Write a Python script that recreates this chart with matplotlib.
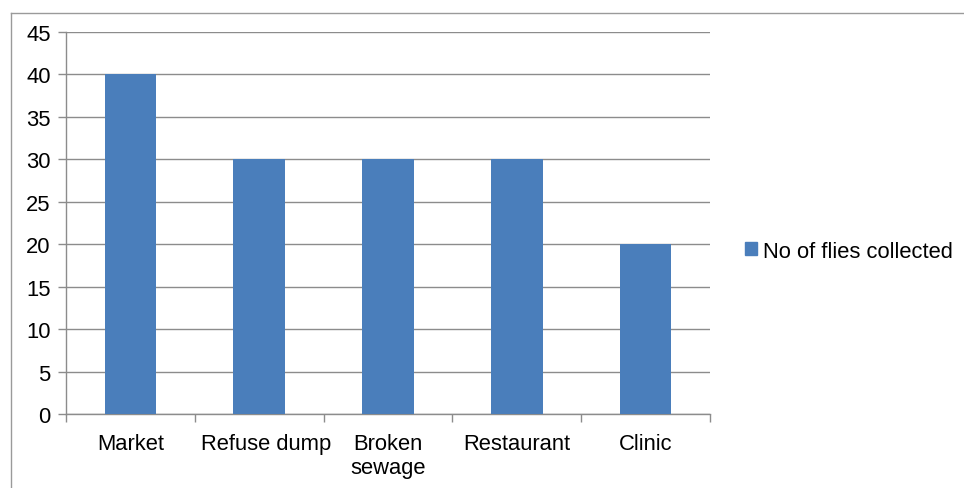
import matplotlib
matplotlib.use("Agg")
import matplotlib.pyplot as plt
import matplotlib.transforms as mtransforms
from matplotlib.patches import Rectangle
from matplotlib.lines import Line2D
import numpy as np

categories = ["Market", "Refuse dump", "Broken\nsewage", "Restaurant", "Clinic"]
values = [40, 30, 30, 30, 20]
series_name = "No of flies collected"
yticks = [0, 5, 10, 15, 20, 25, 30, 35, 40, 45]

plt.rcParams['font.family'] = ['Liberation Sans', 'DejaVu Sans']
W, H = 964, 489
fig = plt.figure(figsize=(W/100, H/100), dpi=100)
ax = fig.add_axes([66/W, 1-415/H, (710-66)/W, (415-33)/H])

FS = 15.8
bar_color = "#4a7ebb"
grid_color = "#8c8c8c"
x = np.arange(len(categories))
ax.bar(x, values, width=0.4, color=bar_color, zorder=3)

ax.set_xlim(-0.5, len(categories)-0.5)
ax.set_ylim(0, 45)
ax.set_yticks(yticks)
ax.set_yticklabels([str(v) for v in yticks], fontsize=FS)
ax.yaxis.grid(True, color=grid_color, linewidth=1.0, zorder=0)
ax.set_axisbelow(True)

ax.set_xticks(x)
ax.set_xticklabels(categories, fontsize=FS, linespacing=1.15, va='top')
ax.set_xticks(np.arange(len(categories)+1)-0.5, minor=True)
ax.tick_params(axis='x', which='major', length=0, pad=14)
ax.tick_params(axis='x', which='minor', length=6, color=grid_color, width=1.0, direction='out')
ax.tick_params(axis='y', length=6, color=grid_color, width=1.0, pad=5)

# the single-line "Refuse dump" label sits slightly right of its bar in the original
lbl = ax.get_xticklabels()[1]
lbl.set_transform(lbl.get_transform() + mtransforms.ScaledTranslation(7/100, 0, fig.dpi_scale_trans))

for s in ['top', 'right']:
    ax.spines[s].set_visible(False)
for s in ['left', 'bottom']:
    ax.spines[s].set_color(grid_color)
    ax.spines[s].set_linewidth(1.0)

# legend
handle = Rectangle((0, 0), 1, 1, color=bar_color)
leg = fig.legend([handle], [series_name], loc='center left',
                 bbox_to_anchor=(745/W, 1-252/H), frameon=False, fontsize=FS,
                 borderpad=0, borderaxespad=0,
                 handlelength=0.55, handleheight=0.55, handletextpad=0.25)

# outer chart frame (left and top edges visible)
fig.add_artist(Line2D([10.5/W, 10.5/W], [0, 1-14/H], color="#9a9a9a", linewidth=1.0))
fig.add_artist(Line2D([10.5/W, 1], [1-14/H, 1-14/H], color="#9a9a9a", linewidth=1.0))

fig.savefig("out.png", dpi=100)
